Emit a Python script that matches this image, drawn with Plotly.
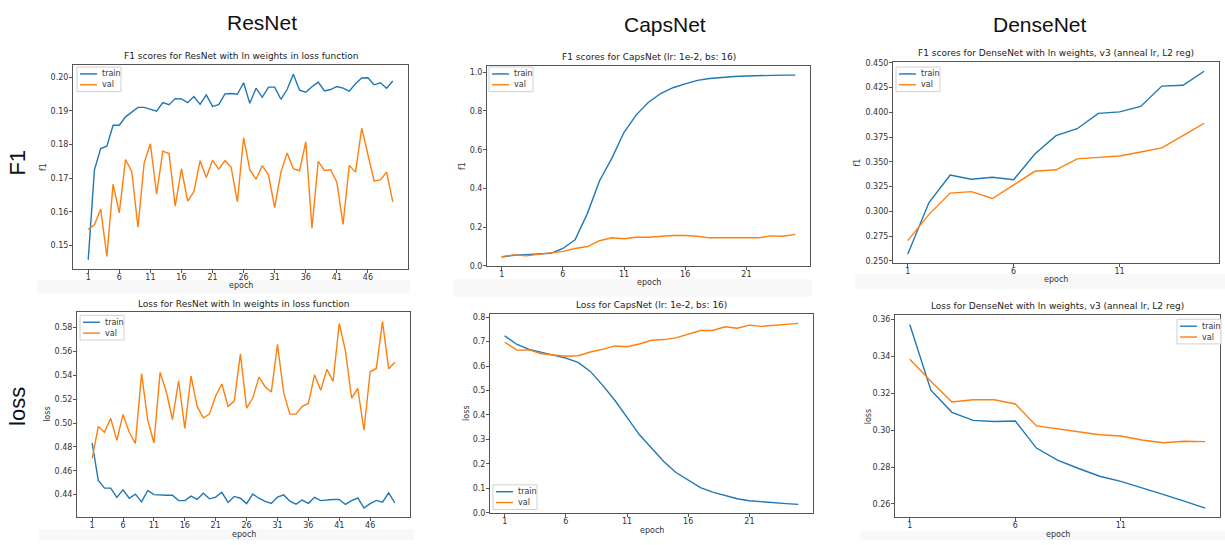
import plotly.graph_objects as go

W, H = 1225, 545

# ---------------- data ----------------
resnet_epochs = list(range(1, 51))
resnet_f1_train = [0.1458, 0.1725, 0.1788, 0.1795, 0.1857, 0.1857, 0.1882, 0.1897, 0.1910, 0.1910,
                   0.1905, 0.1899, 0.1924, 0.1918, 0.1936, 0.1935, 0.1924, 0.1942, 0.1919, 0.1947,
                   0.1913, 0.1918, 0.1950, 0.1951, 0.1949, 0.1983, 0.1922, 0.1967, 0.1940, 0.1970,
                   0.1970, 0.1934, 0.1963, 0.2008, 0.1961, 0.1955, 0.1971, 0.1985, 0.1959, 0.1963,
                   0.1972, 0.1967, 0.1958, 0.1980, 0.1997, 0.1998, 0.1977, 0.1983, 0.1967, 0.1988]
resnet_f1_val = [0.1548, 0.1562, 0.1608, 0.1468, 0.1682, 0.1597, 0.1755, 0.1720, 0.1555, 0.1745,
                 0.1802, 0.1653, 0.1780, 0.1773, 0.1617, 0.1728, 0.1632, 0.1660, 0.1752, 0.1702,
                 0.1753, 0.1727, 0.1752, 0.1732, 0.1630, 0.1820, 0.1725, 0.1697, 0.1737, 0.1710,
                 0.1613, 0.1718, 0.1775, 0.1728, 0.1722, 0.1808, 0.1552, 0.1750, 0.1723, 0.1725,
                 0.1688, 0.1563, 0.1738, 0.1718, 0.1848, 0.1765, 0.1692, 0.1695, 0.1718, 0.1630]
resnet_loss_train = [0.4833, 0.4520, 0.4455, 0.4455, 0.4377, 0.4440, 0.4370, 0.4405, 0.4340, 0.4435,
                     0.4400, 0.4395, 0.4395, 0.4395, 0.4350, 0.4350, 0.4388, 0.4360, 0.4412, 0.4365,
                     0.4380, 0.4420, 0.4335, 0.4385, 0.4370, 0.4325, 0.4405, 0.4370, 0.4343, 0.4327,
                     0.4380, 0.4398, 0.4345, 0.4320, 0.4355, 0.4327, 0.4378, 0.4350, 0.4357, 0.4360,
                     0.4360, 0.4318, 0.4350, 0.4372, 0.4288, 0.4325, 0.4352, 0.4337, 0.4415, 0.4330]
resnet_loss_val = [0.4705, 0.4972, 0.4922, 0.5040, 0.4855, 0.5073, 0.4923, 0.4830, 0.5415, 0.5025,
                   0.4833, 0.5425, 0.5265, 0.5030, 0.5355, 0.4955, 0.5395, 0.5140, 0.5045, 0.5075,
                   0.5230, 0.5328, 0.5140, 0.5185, 0.5580, 0.5125, 0.5210, 0.5385, 0.5305, 0.5260,
                   0.5660, 0.5255, 0.5075, 0.5075, 0.5140, 0.5165, 0.5405, 0.5275, 0.5450, 0.5350,
                   0.5835, 0.5605, 0.5210, 0.5290, 0.4940, 0.5430, 0.5458, 0.5850, 0.5455, 0.5510]

capsnet_epochs = list(range(1, 26))
capsnet_f1_train = [0.046, 0.055, 0.058, 0.060, 0.065, 0.090, 0.135, 0.270, 0.440, 0.555,
                    0.690, 0.780, 0.845, 0.890, 0.920, 0.940, 0.958, 0.968, 0.974, 0.978,
                    0.981, 0.983, 0.982, 0.985, 0.985]
capsnet_f1_val = [0.048, 0.057, 0.052, 0.060, 0.065, 0.075, 0.090, 0.100, 0.130, 0.145,
                  0.140, 0.148, 0.148, 0.153, 0.157, 0.157, 0.153, 0.145, 0.145, 0.143,
                  0.145, 0.145, 0.155, 0.153, 0.163]
capsnet_loss_train = [0.723, 0.688, 0.668, 0.657, 0.645, 0.632, 0.615, 0.578, 0.522, 0.460,
                      0.390, 0.320, 0.265, 0.210, 0.165, 0.133, 0.103, 0.085, 0.070, 0.058,
                      0.050, 0.045, 0.041, 0.038, 0.035]
capsnet_loss_val = [0.697, 0.665, 0.666, 0.650, 0.645, 0.640, 0.642, 0.657, 0.668, 0.682,
                    0.679, 0.690, 0.705, 0.708, 0.715, 0.730, 0.745, 0.745, 0.760, 0.754,
                    0.767, 0.762, 0.765, 0.771, 0.774]

densenet_epochs = list(range(1, 16))
densenet_f1_train = [0.257, 0.309, 0.3367, 0.3325, 0.3345, 0.332, 0.358, 0.3765, 0.3835, 0.399,
                     0.4005, 0.406, 0.4265, 0.4273, 0.4415]
densenet_f1_val = [0.2705, 0.297, 0.3185, 0.3200, 0.313, 0.3265, 0.3405, 0.342, 0.353, 0.3545,
                   0.356, 0.360, 0.3642, 0.3765, 0.389]
densenet_loss_train = [0.3573, 0.3217, 0.3097, 0.3053, 0.3047, 0.3050, 0.2903, 0.2838, 0.2792, 0.2750,
                       0.2722, 0.2688, 0.2652, 0.2615, 0.2577]
densenet_loss_val = [0.3385, 0.3265, 0.3153, 0.3165, 0.3165, 0.3142, 0.3023, 0.3007, 0.2990, 0.2975,
                     0.2968, 0.2947, 0.2932, 0.2940, 0.2938]

column_headers = ["ResNet", "CapsNet", "DenseNet"]
row_headers = ["F1", "loss"]
series_names = ["train", "val"]

BLUE = "#1f77b4"
ORANGE = "#ff7f0e"
TICK_FONT = dict(family="DejaVu Sans", size=8, color="#333333")

panels = [
    dict(x=resnet_epochs, tr=resnet_f1_train, va=resnet_f1_val,
         box=(73, 408, 63, 270), title="F1 scores for ResNet with ln weights in loss function",
         ylab="f1", ylab_x=43, xticks=list(range(1, 50, 5)), ytick0=0.15, dtick=0.01, yfmt=".2f",
         leg=(77, 65)),
    dict(x=capsnet_epochs, tr=capsnet_f1_train, va=capsnet_f1_val,
         box=(487, 810, 64, 267), title="F1 scores for CapsNet (lr: 1e-2, bs: 16)",
         ylab="f1", ylab_x=462, xticks=list(range(1, 25, 5)), ytick0=0.2, dtick=0.2, yfmt=".1f",
         leg=(489, 65)),
    dict(x=densenet_epochs, tr=densenet_f1_train, va=densenet_f1_val,
         box=(893, 1219, 60, 264), title="F1 scores for DenseNet with ln weights, v3 (anneal lr, L2 reg)",
         ylab="f1", ylab_x=858, xticks=[1, 6, 11], ytick0=0.25, dtick=0.025, yfmt=".3f",
         leg=(896, 65)),
    dict(x=resnet_epochs, tr=resnet_loss_train, va=resnet_loss_val,
         box=(77, 410, 314, 522), title="Loss for ResNet with ln weights in loss function",
         ylab="loss", ylab_x=48, xticks=list(range(1, 50, 5)), ytick0=0.44, dtick=0.02, yfmt=".2f",
         leg=(80, 317)),
    dict(x=capsnet_epochs, tr=capsnet_loss_train, va=capsnet_loss_val,
         box=(490, 813, 316, 518), title="Loss for CapsNet (lr: 1e-2, bs: 16)",
         ylab="loss", ylab_x=467, xticks=list(range(1, 25, 5)), ytick0=0.0, dtick=0.1, yfmt=".1f",
         leg=(493, 489)),
    dict(x=densenet_epochs, tr=densenet_loss_train, va=densenet_loss_val,
         box=(895, 1220, 317, 522), title="Loss for DenseNet with ln weights, v3 (anneal lr, L2 reg)",
         ylab="loss", ylab_x=868, xticks=[1, 6, 11], ytick0=0.26, dtick=0.02, yfmt=".2f",
         leg=(1177, 321)),
]

fig = go.Figure()
layout = dict(width=W, height=H, margin=dict(l=0, r=0, t=0, b=0),
              paper_bgcolor="white", plot_bgcolor="white", showlegend=False,
              annotations=[], shapes=[])


def px_x(v):
    return v / W


def px_y(v):
    return 1 - v / H


# faint grey edges of the screenshot panels
for (x0, x1, y0, y1) in [(37, 410, 281, 295), (453, 812, 280, 298), (855, 1225, 275, 290),
                         (39, 414, 534, 545), (860, 1225, 536, 545)]:
    layout["shapes"].append(dict(type="rect", xref="paper", yref="paper", layer="below",
                                 x0=px_x(x0), x1=px_x(x1), y0=px_y(y1), y1=px_y(y0),
                                 fillcolor="#f8f8f8", line=dict(width=0)))

for i, p in enumerate(panels):
    n = i + 1
    sfx = "" if n == 1 else str(n)
    lx0, lx1, ty, by = p["box"]
    ax_x, ax_y = "x" + sfx, "y" + sfx

    fig.add_trace(go.Scatter(x=p["x"], y=p["tr"], mode="lines", name=series_names[0],
                             line=dict(color=BLUE, width=1.4), xaxis=ax_x, yaxis=ax_y))
    fig.add_trace(go.Scatter(x=p["x"], y=p["va"], mode="lines", name=series_names[1],
                             line=dict(color=ORANGE, width=1.4), xaxis=ax_x, yaxis=ax_y))

    allv = p["tr"] + p["va"]
    lo, hi = min(allv), max(allv)
    pad = 0.05 * (hi - lo)
    nx = len(p["x"])
    xpad = 0.05 * (nx - 1)

    common = dict(showline=True, mirror=True, linecolor="#555555", linewidth=1,
                  ticks="outside", ticklen=3, tickcolor="#555555", tickfont=TICK_FONT,
                  showgrid=False, zeroline=False, fixedrange=True)
    layout["xaxis" + sfx] = dict(common, domain=[px_x(lx0), px_x(lx1)], anchor=ax_y,
                                 range=[1 - xpad, nx + xpad], tickmode="array",
                                 tickvals=p["xticks"], ticktext=[str(t) for t in p["xticks"]],
                                 ticklabelstandoff=-3)
    layout["yaxis" + sfx] = dict(common, domain=[px_y(by), px_y(ty)], anchor=ax_x,
                                 range=[lo - pad, hi + pad], tick0=p["ytick0"], dtick=p["dtick"],
                                 tickformat=p["yfmt"], ticklabelstandoff=-1)

    # legend box (drawn as a matplotlib-style inset legend)
    L, T = p["leg"]
    layout["shapes"].append(dict(type="rect", xref="paper", yref="paper", layer="above",
                                 x0=px_x(L), x1=px_x(L + 44), y0=px_y(T + 25), y1=px_y(T),
                                 fillcolor="rgba(255,255,255,0.9)",
                                 line=dict(color="#d0d0d0", width=1)))
    for k, (nm, col) in enumerate(zip(series_names, [BLUE, ORANGE])):
        ry = T + 7 + 11 * k
        layout["shapes"].append(dict(type="line", xref="paper", yref="paper", layer="above",
                                     x0=px_x(L + 3), x1=px_x(L + 20), y0=px_y(ry), y1=px_y(ry),
                                     line=dict(color=col, width=1.4)))
        layout["annotations"].append(dict(text=nm, x=px_x(L + 23), y=px_y(ry), xref="paper",
                                          yref="paper", showarrow=False, xanchor="left",
                                          yanchor="middle",
                                          font=dict(family="DejaVu Sans", size=8, color="#333333")))

    cx = (lx0 + lx1) / 2
    layout["annotations"].append(dict(text=p["title"], x=px_x(cx), y=px_y(ty - 9),
                                      xref="paper", yref="paper", showarrow=False,
                                      xanchor="center", yanchor="middle",
                                      font=dict(family="DejaVu Sans", size=9, color="#222222")))
    layout["annotations"].append(dict(text="epoch", x=px_x(cx), y=px_y(by + 17),
                                      xref="paper", yref="paper", showarrow=False,
                                      xanchor="center", yanchor="middle",
                                      font=dict(family="DejaVu Sans", size=8, color="#333333")))
    layout["annotations"].append(dict(text=p["ylab"], x=px_x(p["ylab_x"]), y=px_y((ty + by) / 2),
                                      xref="paper", yref="paper", showarrow=False, textangle=-90,
                                      xanchor="center", yanchor="middle",
                                      font=dict(family="DejaVu Sans", size=8, color="#333333")))

# column and row headers
for name, cx, cy in zip(column_headers, [262, 665, 1040], [20, 22, 22]):
    layout["annotations"].append(dict(text=name, x=px_x(cx), y=px_y(cy), xref="paper", yref="paper",
                                      showarrow=False, xanchor="center", yanchor="middle",
                                      font=dict(family="Liberation Sans", size=21, color="#111111")))
for name, cy in zip(row_headers, [162, 410]):
    layout["annotations"].append(dict(text=name, x=px_x(18), y=px_y(cy), xref="paper", yref="paper",
                                      showarrow=False, textangle=-90, xanchor="center", yanchor="middle",
                                      font=dict(family="Liberation Sans", size=22, color="#111111")))

fig.update_layout(**layout)
fig.write_html("out.html", config={"displayModeBar": False},
               post_script="document.body.style.margin='0';document.body.style.overflow='hidden';")
